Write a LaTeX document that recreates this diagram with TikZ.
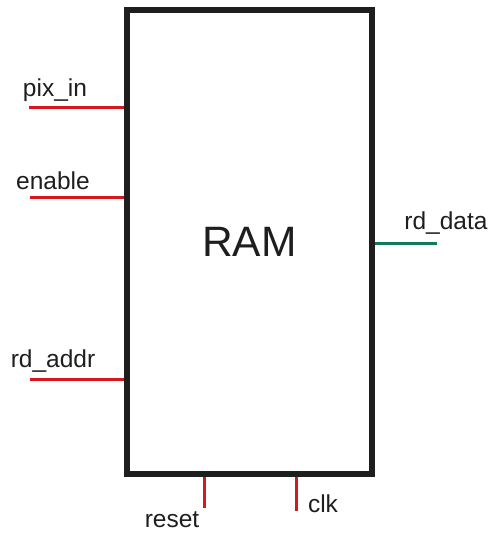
\documentclass[tikz,border=0pt]{standalone}
\usepackage{fontspec}
\setmainfont{Liberation Sans}
\definecolor{wirered}{RGB}{214,24,28}
\definecolor{wiregreen}{RGB}{18,122,92}
\definecolor{ink}{RGB}{30,30,30}
\tikzset{
  inwire/.style={line width=3pt, wirered},
  outwire/.style={line width=3pt, wiregreen},
  sig/.style={font=\fontsize{24.5}{24.5}\selectfont, text=ink, inner sep=0pt},
}
\begin{document}
\begin{tikzpicture}[x=1pt,y=-1pt]
    \useasboundingbox (0,0) rectangle (491,533); % bounding box fix
    \node[draw=ink, line width=6pt, minimum width=245pt, minimum height=464pt, inner sep=0pt,
          text=ink, font=\fontsize{42.5}{42.5}\selectfont] (ram) at (249.5,242) {RAM};
    % inputs
    \coordinate (pixin) at (29,107);
    \coordinate (enable) at (30,197);
    \coordinate (rdaddr) at (30,379);
    \coordinate (reset) at (204,508);
    \coordinate (clk) at (296,511);
    \coordinate (rddata) at (437,243);
    \draw[inwire] (pixin) -- (pixin -| ram.west);
    \draw[inwire] (enable) -- (enable -| ram.west);
    \draw[inwire] (rdaddr) -- (rdaddr -| ram.west);
    \draw[inwire] (reset) -- (reset |- ram.south);
    \draw[inwire] (clk) -- (clk |- ram.south);
    % output
    \draw[outwire] (rddata -| ram.east) -- (rddata);
    % labels
    \node[sig] (pixinlbl) at (55,90) {pix\_in};
    \node[sig] (enablelbl) at (53,181) {enable};
    \node[sig] (rdaddrlbl) at (53,361) {rd\_addr};
    \node[sig] (rddatalbl) at (446,223) {rd\_data};
    \node[sig] (resetlbl) at (172,520) {reset};
    \node[sig] (clklbl) at (323,504) {clk};
\end{tikzpicture}
\end{document}
